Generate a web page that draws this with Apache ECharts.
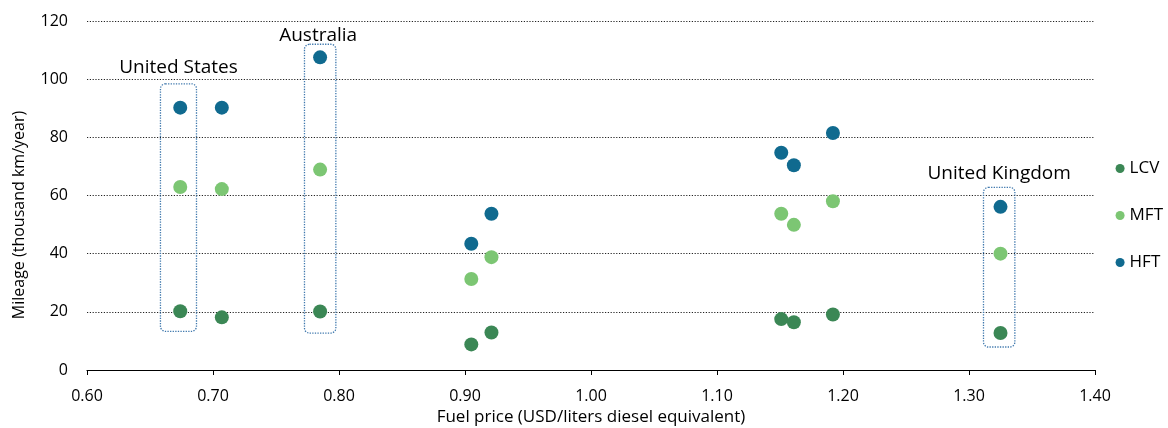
<!DOCTYPE html>
<html>
<head>
<meta charset="utf-8">
<script src="https://cdn.jsdelivr.net/npm/echarts@6/dist/echarts.min.js"></script>
<style>html,body{margin:0;padding:0;background:#fff}#c{width:1168px;height:428px}</style>
</head>
<body>
<div id="c"></div>
<script>
// Data
const fuelPrice = [0.674, 0.707, 0.785, 0.905, 0.921, 1.151, 1.161, 1.192, 1.325];
const lcv = [20.2, 18.1, 20.1, 8.8, 12.9, 17.5, 16.4, 19.1, 12.7];
const mft = [62.9, 62.2, 68.9, 31.3, 38.8, 53.7, 49.9, 58.0, 40.0];
const hft = [90.2, 90.2, 107.5, 43.4, 53.7, 74.7, 70.4, 81.5, 56.1];
const seriesNames = ['LCV', 'MFT', 'HFT'];
const xTicks = ['0.60','0.70','0.80','0.90','1.00','1.10','1.20','1.30','1.40'];
const yTicks = [0, 20, 40, 60, 80, 100, 120];
// Annotation boxes: [xMin, xMax, yMin, yMax] in data units
const boxNames = ['United States', 'Australia', 'United Kingdom'];
const boxX0 = [0.6583, 0.7726, 1.3115];
const boxX1 = [0.6869, 0.7975, 1.3364];
const boxY0 = [13.3, 12.7, 7.9];
const boxY1 = [98.4, 112.0, 62.8];

// styling
const labelDx = [0, -2, 0];
const labelGap = [12, 4, 9];
const colors = ['#3b8755', '#7cc673', '#106a8f'];
const font = '"Open Sans", "Noto Sans", sans-serif';
const vals = [lcv, mft, hft];

const chart = echarts.init(document.getElementById('c'));
const option = {
  animation: false,
  textStyle: { fontFamily: font },
  grid: { left: 87, right: 73, top: 21, bottom: 58, containLabel: false, outerBoundsMode: 'none' },
  legend: {
    orient: 'vertical', right: 0, top: 155, itemGap: 30,
    icon: 'circle', itemWidth: 9, itemHeight: 9,
    textStyle: { fontSize: 17, color: '#000', fontFamily: font },
    data: seriesNames
  },
  xAxis: {
    type: 'value', min: 0.6, max: 1.4, interval: 0.1,
    name: 'Fuel price (USD/liters diesel equivalent)',
    nameLocation: 'middle', nameGap: 36,
    nameTextStyle: { fontSize: 17, color: '#000', fontFamily: font },
    axisLine: { lineStyle: { color: '#000', width: 1.2 } },
    axisTick: { show: true, length: 5, lineStyle: { color: '#000' } },
    axisLabel: { fontSize: 16, color: '#000', margin: 18, formatter: v => v.toFixed(2) },
    splitLine: { show: false }
  },
  yAxis: {
    type: 'value', min: 0, max: 120, interval: 20,
    name: 'Mileage (thousand km/year)',
    nameLocation: 'middle', nameGap: 60, nameRotate: 90,
    nameTextStyle: { fontSize: 16, color: '#000', fontFamily: font, padding: [0, 39, 0, 0] },
    axisLine: { show: false },
    axisTick: { show: false },
    axisLabel: { fontSize: 16, color: '#000', margin: 19 },
    splitLine: { show: true, lineStyle: { color: '#222', type: [1.2, 1.6], width: 1 } }
  },
  series: seriesNames.map((n, i) => ({
    name: n, type: 'scatter', symbolSize: 14,
    itemStyle: { color: colors[i], opacity: 1 },
    data: fuelPrice.map((x, j) => [x, vals[i][j]]),
    z: 3
  }))
};
chart.setOption(option);

// Annotation boxes and labels, positioned through the chart's scales
const graphics = [];
boxNames.forEach((name, i) => {
  const p0 = chart.convertToPixel({ gridIndex: 0 }, [boxX0[i], boxY1[i]]);
  const p1 = chart.convertToPixel({ gridIndex: 0 }, [boxX1[i], boxY0[i]]);
  graphics.push({
    type: 'rect', z: 1,
    shape: { x: p0[0], y: p0[1], width: p1[0] - p0[0], height: p1[1] - p0[1], r: 5 },
    style: { fill: 'none', stroke: '#3f78ad', lineWidth: 1.3, lineDash: [1.3, 1.3] }
  });
  graphics.push({
    type: 'text', z: 5,
    x: (p0[0] + p1[0]) / 2 + labelDx[i], y: p0[1] - labelGap[i] + 5,
    style: {
      text: name, fill: '#000', fontSize: 19, fontFamily: font,
      textAlign: 'center', textVerticalAlign: 'bottom'
    }
  });
});
chart.setOption({ graphic: graphics });
</script>
</body>
</html>
